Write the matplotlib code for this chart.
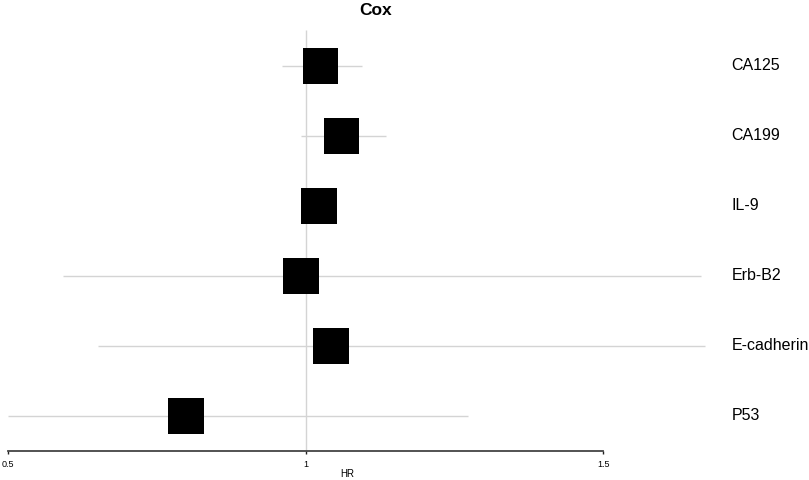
import matplotlib
matplotlib.use("Agg")
import matplotlib.pyplot as plt
import numpy as np

plt.rcParams['font.family'] = ['Liberation Sans', 'DejaVu Sans']

# values
markers = ['CA125', 'CA199', 'IL-9', 'Erb-B2', 'E-cadherin', 'P53']
hr = [1.025, 1.060, 1.023, 0.992, 1.043, 0.799]
ci_low = [0.960, 0.992, 0.995, 0.592, 0.652, 0.500]
ci_high = [1.095, 1.135, 1.050, 1.664, 1.670, 1.272]
xticks = [0.5, 1, 1.5]
xtick_labels = ['0.5', '1', '1.5']

rows = np.arange(len(markers), 0, -1)  # top row first

fig = plt.figure(figsize=(8.09, 4.8), dpi=100)
ax = fig.add_axes([0, 0, 1, 1])
ax.set_xlim(0.4866, 1.8455)
ax.set_ylim(0.0814, 6.939)

# reference line at HR = 1
ax.vlines(1, 0.496, 6.51, color='#d4d4d4', lw=1, zorder=1)

# confidence intervals
ax.hlines(rows, ci_low, ci_high, color='#d4d4d4', lw=1, zorder=2)

# point estimates
ax.scatter(hr, rows, marker='s', s=25.7 ** 2, color='black', edgecolors='none', zorder=3)

for r, name in zip(rows, markers):
    ax.text(1.7157, r, name, ha='left', va='center', fontsize=11.5)

ax.text(1.1182, 6.79, 'Cox', ha='center', va='center', fontsize=12.5, fontweight='bold')
ax.text(1.070, 0.16, 'HR', ha='center', va='center', fontsize=7)

# x axis only
for s in ['top', 'right', 'left']:
    ax.spines[s].set_visible(False)
ax.spines['bottom'].set_position(('data', 0.496))
ax.spines['bottom'].set_bounds(0.5, 1.5)
ax.spines['bottom'].set_color('#444444')
ax.spines['bottom'].set_linewidth(1.3)
ax.set_xticks(xticks)
ax.set_xticklabels(xtick_labels)
ax.tick_params(axis='x', direction='out', length=2.5, width=1, color='#222222',
               labelsize=6.5, pad=4)
ax.set_yticks([])

fig.savefig('out.png', dpi=100)
